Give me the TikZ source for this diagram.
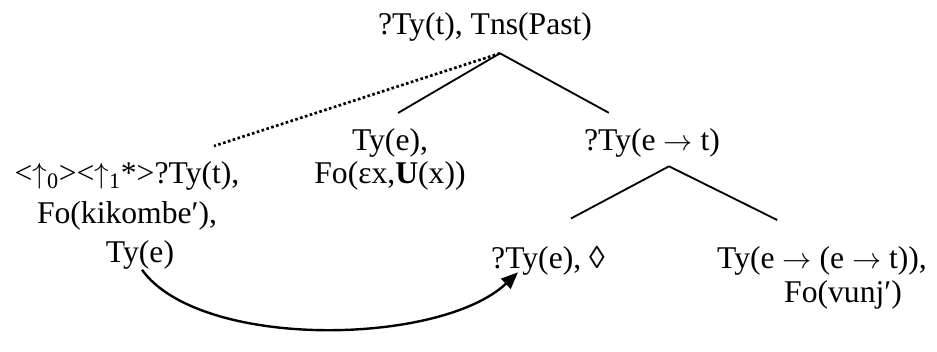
\documentclass[tikz,border=0pt]{standalone}
\usepackage{fontspec}
\setmainfont{Liberation Serif}
\usetikzlibrary{arrows.meta}
\newcommand{\tyarrow}{$\rightarrow$}
\newcommand{\upmod}{$\uparrow$}
\tikzset{treenode/.style={inner sep=0pt,align=center,font=\fontsize{22.5}{27}\selectfont},branchline/.style={draw=black,line width=1.3pt},linkline/.style={draw=black,line width=1.9pt,dash pattern=on 1.9pt off 1.7pt},movearrow/.style={draw=black,line width=1.7pt,-{Triangle[length=4.2mm,width=3.4mm]}}}

\begin{document}
\begin{tikzpicture}[x=1cm,y=1cm]
\fill[white] (0,0) rectangle (23.425,8.35);
\node[treenode,anchor=base] (root) at (12.125,7.475) {?Ty(t), Tns(Past)};
\node[treenode,anchor=north,font=\fontsize{22.5}{28.2}\selectfont] (unfixed) at (3.175,4.32) {<\upmod\textsubscript{0}><\upmod\textsubscript{1}*>?Ty(t),\\Fo(kikombe′),\\\hspace*{0.65cm}Ty(e)};
\node[treenode,anchor=north,font=\fontsize{22.5}{23.4}\selectfont] (quant) at (9.75,5.15) {Ty(e),\\Fo(εx,\textbf{U}(x))};
\node[treenode,anchor=base] (pred) at (16.3,4.6) {?Ty(e \tyarrow{} t)};
\node[treenode,anchor=base] (goal) at (13.7,1.65) {?Ty(e), ◊};
\node[treenode,anchor=north,font=\fontsize{22.5}{24.5}\selectfont] (fn) at (20.55,2.2) {Ty(e \tyarrow{} (e \tyarrow{} t)),\\\hspace*{1.05cm}Fo(vunj′)};
\coordinate (rootfork) at ([xshift=0.375cm,yshift=-0.28cm]root.south);
\coordinate (predfork) at ([xshift=0.425cm,yshift=-0.23cm]pred.south);
\draw[branchline] (rootfork) -- ([xshift=0.2cm,yshift=0.375cm]quant.north);\draw[branchline] (rootfork) -- ([xshift=0.625cm,yshift=0.375cm]pred.north west);
\draw[linkline] (rootfork) -- ([xshift=-0.64cm,yshift=0.38cm]unfixed.north east);
\draw[branchline] (predfork) -- ([xshift=0.575cm,yshift=0.675cm]goal.north);\draw[branchline] (predfork) -- ([xshift=1.51cm,yshift=0.65cm]fn.north west);
\draw[movearrow] ([xshift=0.375cm]unfixed.south)..controls (5,-0.4) and (11,-0.3)..([xshift=-0.75cm,yshift=0.07cm]goal.south);
\end{tikzpicture}
\end{document}
